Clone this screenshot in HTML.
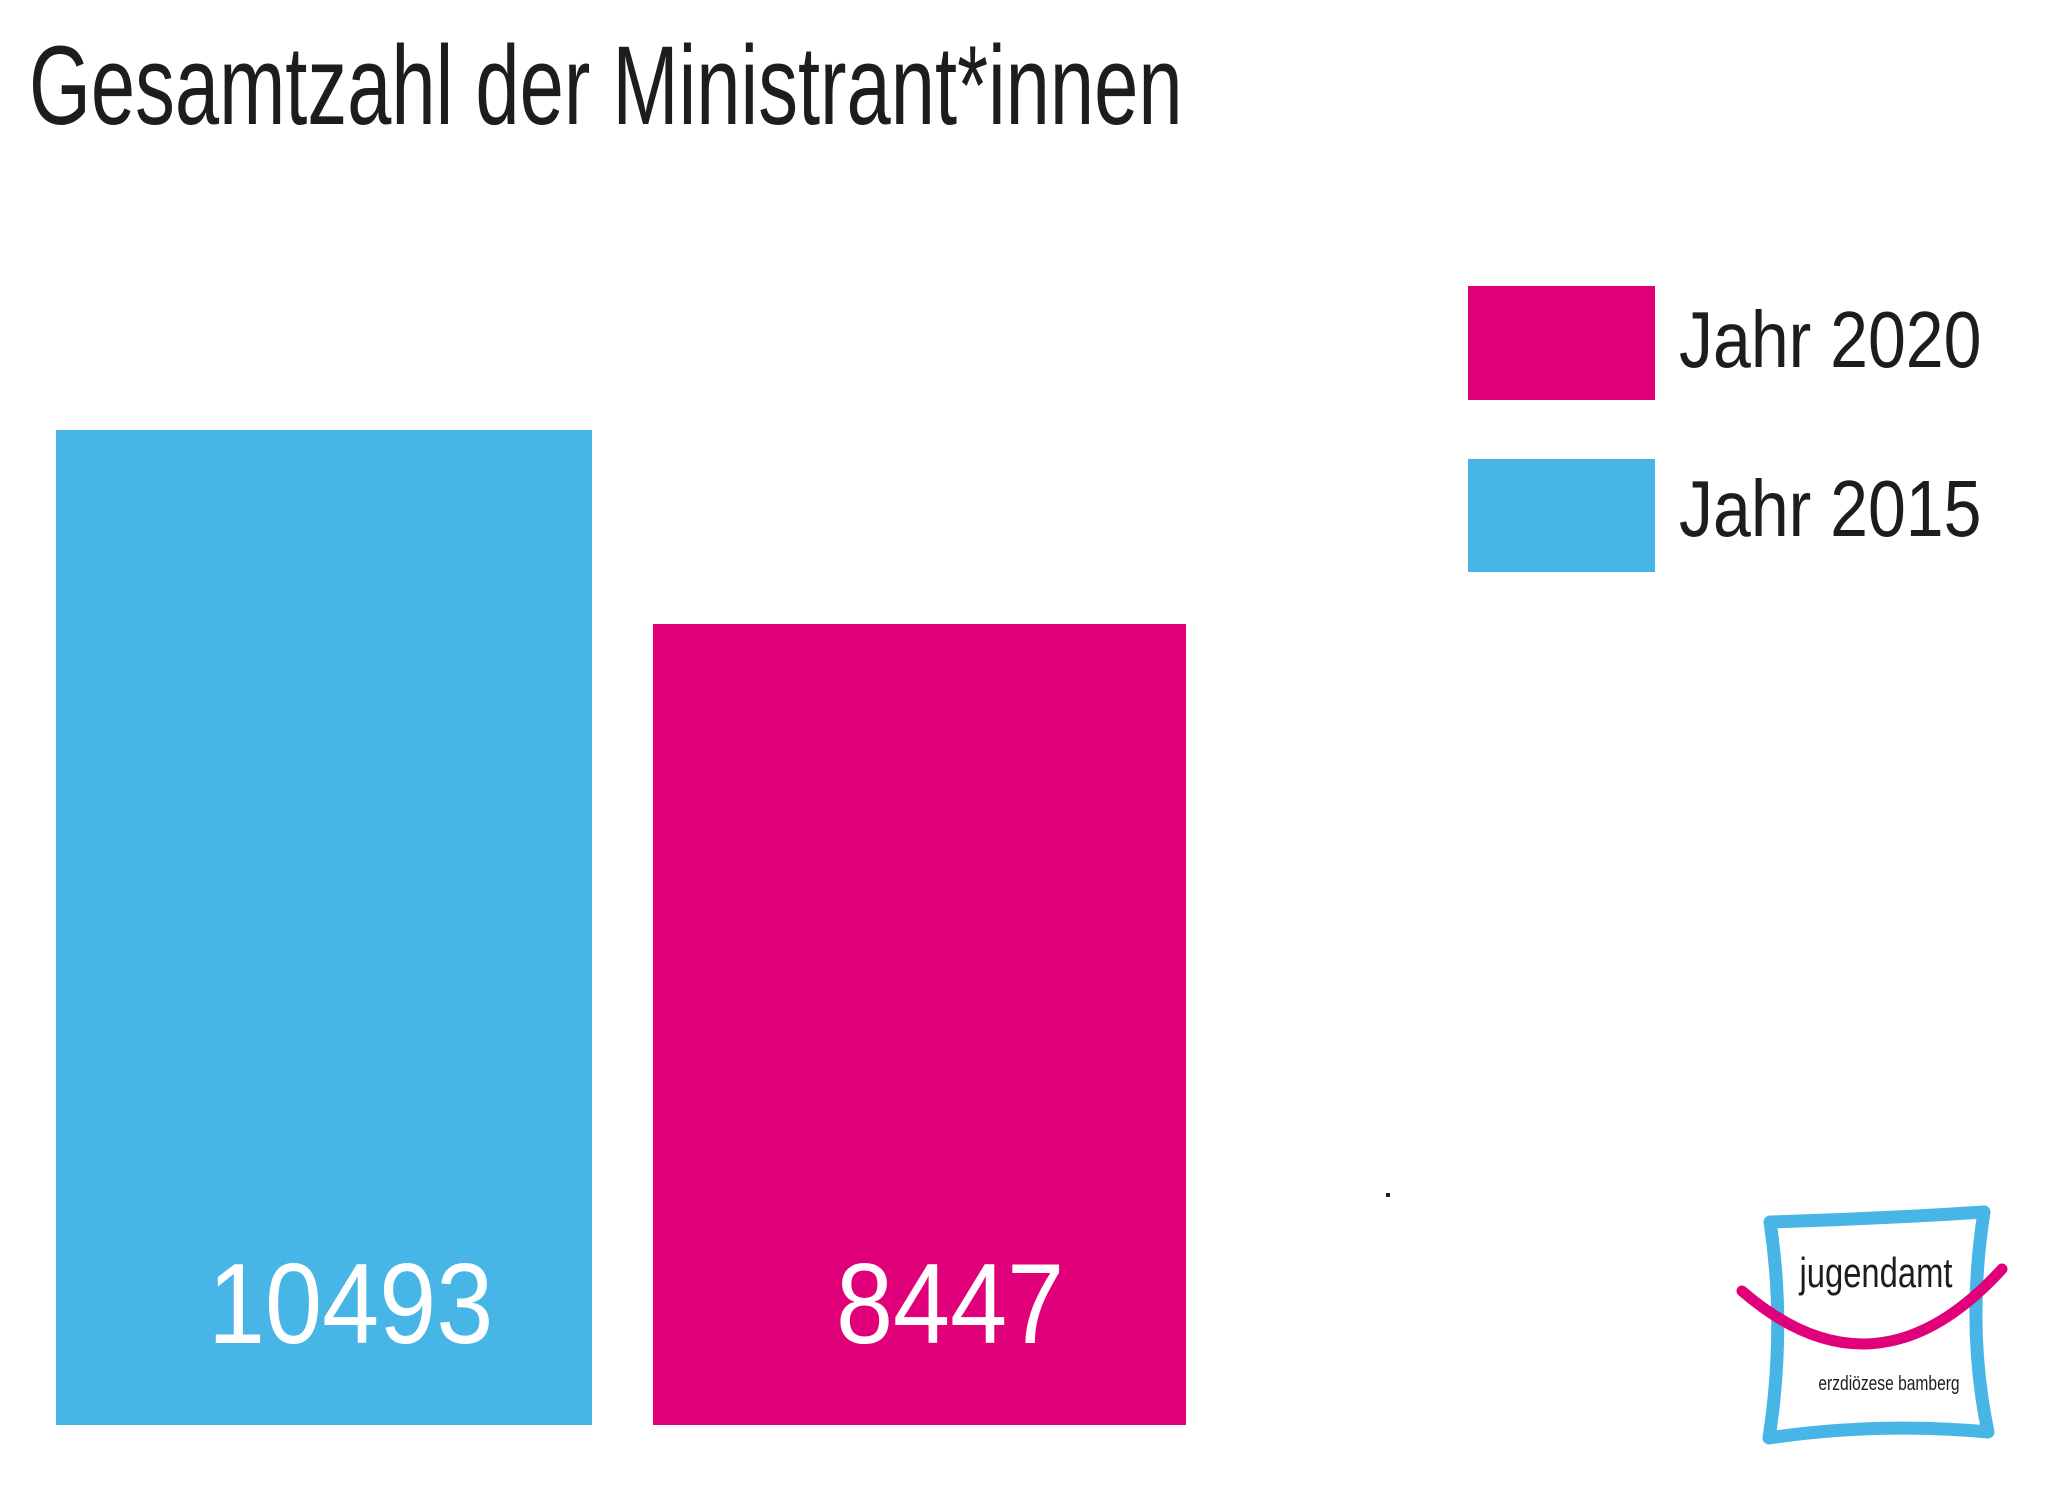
<!DOCTYPE html>
<html><head><meta charset="utf-8"><style>
html,body{margin:0;padding:0;background:#fff;}
body{width:2054px;height:1499px;position:relative;overflow:hidden;font-family:"Liberation Sans",sans-serif;}
.a{position:absolute;}
</style></head><body>
<div class="a" style="left:29px;top:30px;font-size:112px;line-height:1;color:#1d1d1b;white-space:nowrap;transform:scaleX(0.71);transform-origin:0 0;">Gesamtzahl der Ministrant*innen</div>
<div class="a" style="left:56px;top:430px;width:536px;height:995px;background:#47b5e6;"></div>
<div class="a" style="left:653px;top:624px;width:533px;height:801px;background:#e0007a;"></div>
<div class="a" style="left:208px;top:1248px;font-size:114px;line-height:1;color:#fff;white-space:nowrap;transform:scaleX(0.9);transform-origin:0 0;">10493</div>
<div class="a" style="left:836px;top:1248px;font-size:114px;line-height:1;color:#fff;white-space:nowrap;transform:scaleX(0.9);transform-origin:0 0;">8447</div>
<div class="a" style="left:1468px;top:286px;width:187px;height:114px;background:#e0007a;"></div>
<div class="a" style="left:1468px;top:459px;width:187px;height:113px;background:#47b5e6;"></div>
<div class="a" style="left:1679px;top:300px;font-size:80px;line-height:1;color:#1d1d1b;white-space:nowrap;transform:scaleX(0.85);transform-origin:0 0;">Jahr 2020</div>
<div class="a" style="left:1679px;top:469px;font-size:80px;line-height:1;color:#1d1d1b;white-space:nowrap;transform:scaleX(0.85);transform-origin:0 0;">Jahr 2015</div>
<div class="a" style="left:1386px;top:1193px;width:4px;height:4px;background:#1d1d1b;"></div>
<svg class="a" style="left:0;top:0" width="2054" height="1499">
<path d="M1770 1222 Q1876 1219 1984 1212 Q1966 1327 1988 1432 Q1876 1422 1769 1438 Q1786 1327 1770 1222 Z" fill="none" stroke="#47b5e6" stroke-width="13" stroke-linejoin="round"/>
<path d="M1742 1291 Q1876 1407 2002 1269" fill="none" stroke="#e0007a" stroke-width="11" stroke-linecap="round"/>
<text x="1876" y="1287" font-size="42" text-anchor="middle" fill="#1d1d1b" font-family="Liberation Sans" transform="translate(1876 0) scale(0.78 1) translate(-1876 0)">jugendamt</text>
<text x="1889" y="1390" font-size="20" text-anchor="middle" fill="#1d1d1b" font-family="Liberation Sans" transform="translate(1889 0) scale(0.78 1) translate(-1889 0)">erzdiözese bamberg</text>
</svg>
</body></html>
